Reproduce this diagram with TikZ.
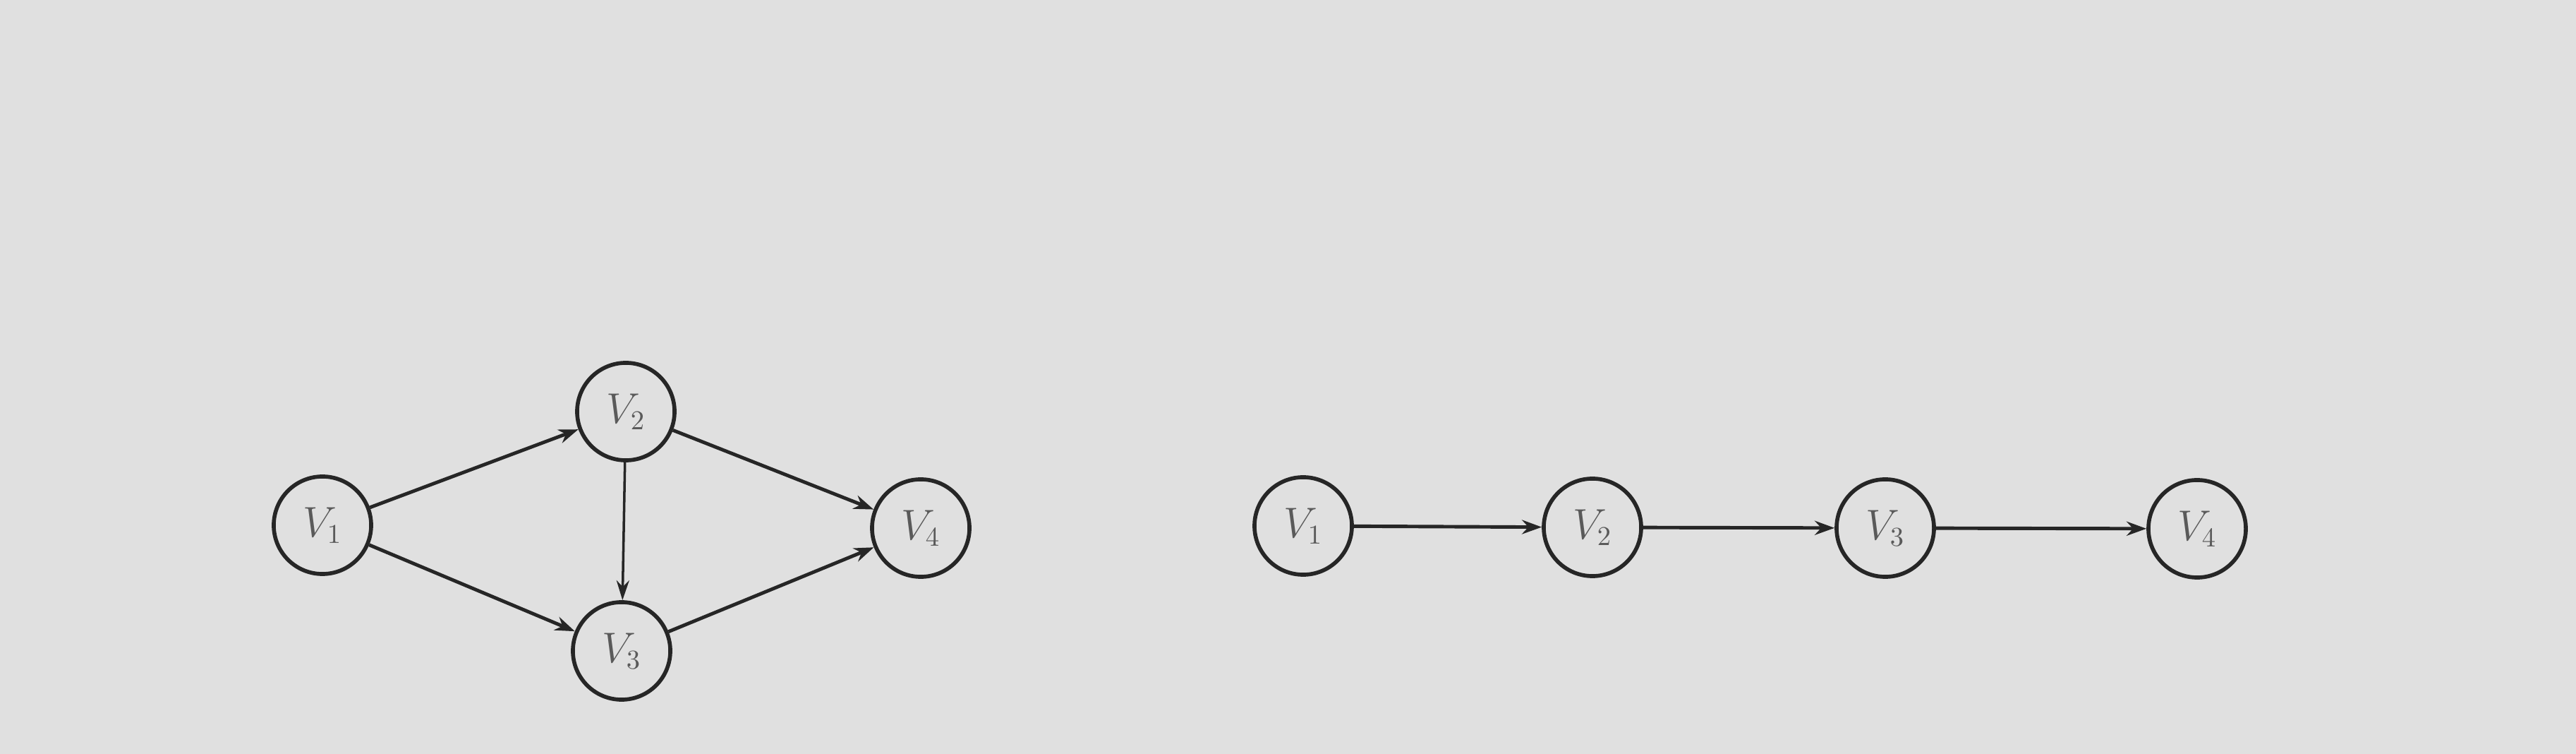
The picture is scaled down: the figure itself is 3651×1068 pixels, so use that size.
\documentclass[tikz,border=0pt]{standalone}
\usetikzlibrary{arrows.meta}
\definecolor{bg}{RGB}{224,224,224}
\definecolor{ink}{RGB}{38,38,38}
\definecolor{txt}{RGB}{90,90,90}
\begin{document}
\begin{tikzpicture}[x=0.01cm,y=-0.01cm,
  vert/.style={circle,draw=ink,line width=1.6pt,minimum size=1.38cm,inner sep=0pt,
    text=txt,font=\fontsize{16}{18}\selectfont},
  edge/.style={draw=ink,line width=1.4pt,-{Stealth[length=0.28cm,width=0.2cm]}},
  thin edge/.style={draw=ink,line width=1pt,-{Stealth[length=0.28cm,width=0.18cm]}}]
\fill[bg] (0,0) rectangle (3651,1068);
\useasboundingbox (0,0) rectangle (3651,1068);
% left graph
\node[vert] (a1) at (457,744) {$V_1$};
\node[vert] (a2) at (887,583) {$V_2$};
\node[vert] (a3) at (881,922) {$V_3$};
\node[vert] (a4) at (1305,748) {$V_4$};
\draw[edge] (a1) -- (a2);
\draw[edge] (a1) -- (a3);
\draw[thin edge] (a2) -- (a3);
\draw[edge] (a2) -- (a4);
\draw[edge] (a3) -- (a4);
% right graph
\node[vert] (b1) at (1847,745) {$V_1$};
\node[vert] (b2) at (2257,747) {$V_2$};
\node[vert] (b3) at (2672,748) {$V_3$};
\node[vert] (b4) at (3114,749) {$V_4$};
\draw[edge] (b1) -- (b2);
\draw[edge] (b2) -- (b3);
\draw[edge] (b3) -- (b4);
\end{tikzpicture}
\end{document}
